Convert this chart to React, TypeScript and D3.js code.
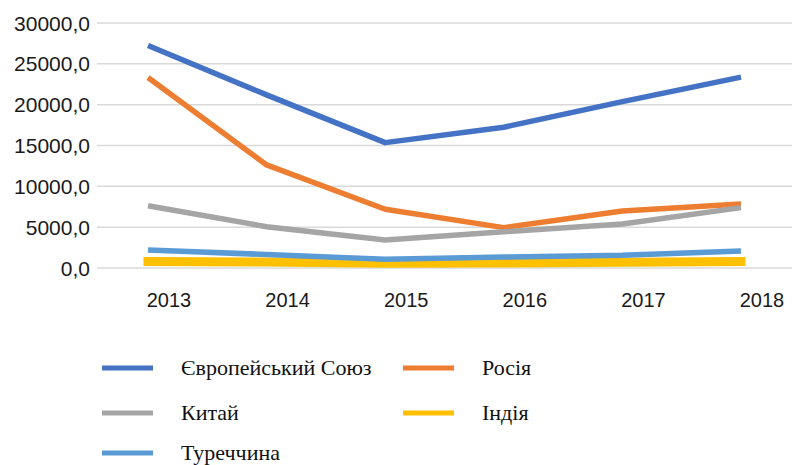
import React from 'react';
import * as d3 from 'd3';

// роки та значення серій
const years = ['2013', '2014', '2015', '2016', '2017', '2018'];
const yTicks = [0, 5000, 10000, 15000, 20000, 25000, 30000];

const euValues = [27240, 21200, 15350, 17240, 20380, 23370];
const russiaValues = [23320, 12620, 7190, 4940, 6990, 7840];
const chinaValues = [7630, 5060, 3430, 4450, 5390, 7390];
const indiaValues = [800, 720, 580, 620, 700, 780];
const turkeyValues = [2200, 1650, 1060, 1350, 1550, 2080];

const seriesNames = ['Європейський Союз', 'Росія', 'Китай', 'Індія', 'Туреччина'];
const seriesColors = ['#4472C4', '#ED7D31', '#A5A5A5', '#FFC000', '#5B9BD5'];

// розміщення легенди
const legendLayout = [
  { sx: 102, tx: 181, cy: 368 },
  { sx: 403, tx: 482, cy: 368 },
  { sx: 102, tx: 181, cy: 413 },
  { sx: 403, tx: 482, cy: 413 },
  { sx: 102, tx: 181, cy: 453 },
];

const sansFont = "'Liberation Sans'";
const serifFont = "'Liberation Serif'";

const App = () => {
  const width = 794;
  const height = 465;

  const allSeries = [euValues, russiaValues, chinaValues, indiaValues, turkeyValues];

  const x = d3.scalePoint<string>().domain(years).range([148, 741]);
  const y = d3.scaleLinear().domain([0, 30000]).range([268, 23]);

  const line = d3.line<number>()
    .x((d, i) => x(years[i]) as number)
    .y(d => y(d));

  const fmt = (v: number) => d3.format('.1f')(v).replace('.', ',');

  return (
    <svg
      width={width}
      height={height}
      style={{ position: 'absolute', left: 0, top: 0, background: 'white' }}
    >
      <rect width={width} height={height} fill="white" />

      {/* сітка */}
      {yTicks.map(t => (
        <line key={'g' + t} x1={97} x2={792} y1={y(t)} y2={y(t)} stroke="#d9d9d9" strokeWidth={1.5} />
      ))}

      {/* вісь Y */}
      {yTicks.map(t => (
        <text
          key={'y' + t}
          x={90}
          y={y(t)}
          dy="0.36em"
          textAnchor="end"
          fill="#1a1a1a"
          style={{ fontFamily: sansFont, fontSize: '21px' }}
        >
          {fmt(t)}
        </text>
      ))}

      {/* вісь X */}
      {years.map(yr => (
        <text
          key={'x' + yr}
          x={(x(yr) as number) + 21}
          y={307}
          textAnchor="middle"
          fill="#1a1a1a"
          style={{ fontFamily: sansFont, fontSize: '20px' }}
        >
          {yr}
        </text>
      ))}

      {/* лінії */}
      {allSeries.map((vals, i) => (
        <path
          key={'s' + i}
          d={line(vals) || ''}
          fill="none"
          stroke={seriesColors[i]}
          strokeWidth={i === 3 ? 9 : 5.5}
          strokeLinecap={i === 3 ? 'square' : 'butt'}
          strokeLinejoin="round"
        />
      ))}

      {/* легенда */}
      {seriesNames.map((name, i) => {
        const p = legendLayout[i];
        return (
          <g key={'l' + i}>
            <line x1={p.sx} x2={p.sx + 51} y1={p.cy} y2={p.cy} stroke={seriesColors[i]} strokeWidth={5} />
            <text
              x={p.tx}
              y={p.cy + 7}
              fill="#111"
              fontFamily="Liberation Serif"
              style={{ fontFamily: serifFont, fontSize: '22px' }}
            >
              {name}
            </text>
          </g>
        );
      })}
    </svg>
  );
};

export default App;
